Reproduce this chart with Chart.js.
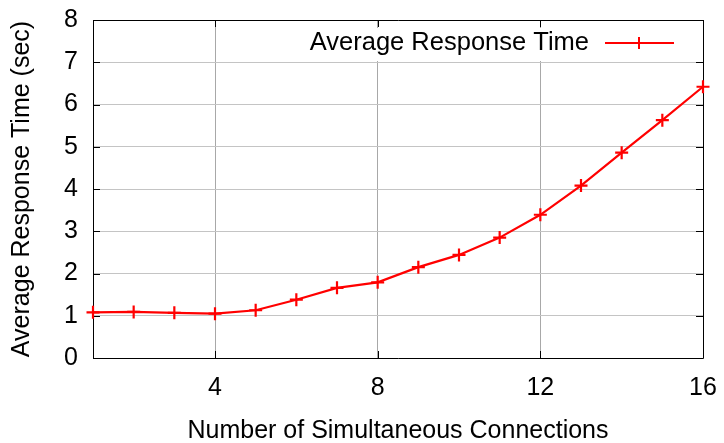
<!DOCTYPE html>
<html>
<head>
<meta charset="utf-8">
<script src="https://cdn.jsdelivr.net/npm/chart.js@4"></script>
<style>
  html,body{margin:0;padding:0;background:#fff;}
  #wrap{width:724px;height:443px;position:relative;}
</style>
</head>
<body>
<div id="wrap"><canvas id="c"></canvas></div>
<script>
const connections = [1,2,3,4,5,6,7,8,9,10,11,12,13,14,15,16];
const responseTime = [1.08,1.09,1.07,1.05,1.13,1.38,1.66,1.79,2.15,2.44,2.85,3.39,4.08,4.86,5.63,6.42];
const xTicks = [4,8,12,16];
const yTicks = [0,1,2,3,4,5,6,7,8];
const seriesLabel = 'Average Response Time';

const FONT = "'Liberation Sans', Arial, sans-serif";
const RED = '#ff0000';

// gnuplot-style frame with inward ticks + in-plot key
const framePlugin = {
  id:'frame',
  beforeDatasetsDraw(chart){
    const {ctx, chartArea:a, scales} = chart;
    ctx.save();
    // key box (white, hides the grid behind it)
    ctx.fillStyle='#fff';
    ctx.fillRect(a.right-400, a.top+8, 392, 33);
    ctx.strokeStyle='#000'; ctx.lineWidth=1;
    ctx.beginPath();
    ctx.rect(Math.round(a.left)+0.5, Math.round(a.top)+0.5, Math.round(a.right-a.left), Math.round(a.bottom-a.top));
    const t=7;
    xTicks.forEach(v=>{
      const x=Math.round(scales.x.getPixelForValue(v))+0.5;
      ctx.moveTo(x,a.bottom); ctx.lineTo(x,a.bottom-t);
      ctx.moveTo(x,a.top); ctx.lineTo(x,a.top+t);
    });
    yTicks.forEach(v=>{
      const y=Math.round(scales.y.getPixelForValue(v))+0.5;
      ctx.moveTo(a.left,y); ctx.lineTo(a.left+t,y);
      ctx.moveTo(a.right,y); ctx.lineTo(a.right-t,y);
    });
    ctx.stroke();
    // key text and sample
    const cy=a.top+23;
    ctx.fillStyle='#000';
    ctx.font='25.5px '+FONT;
    ctx.textAlign='right'; ctx.textBaseline='middle';
    ctx.fillText(seriesLabel, a.right-114, cy);
    ctx.strokeStyle=RED; ctx.lineWidth=2;
    ctx.beginPath();
    ctx.moveTo(a.right-98,cy); ctx.lineTo(a.right-29,cy);
    const mx=a.right-64;
    ctx.moveTo(mx-6,cy); ctx.lineTo(mx+6,cy);
    ctx.moveTo(mx,cy-6); ctx.lineTo(mx,cy+6);
    ctx.stroke();
    ctx.restore();
  }
};

new Chart(document.getElementById('c'),{
  type:'line',
  data:{
    labels:connections,
    datasets:[{
      label:seriesLabel,
      data:connections.map((x,i)=>({x, y:responseTime[i]})),
      borderColor:RED, backgroundColor:RED,
      borderWidth:2.2, tension:0,
      pointStyle:'cross', pointRadius:6.5, pointBorderWidth:2.2,
      pointBorderColor:RED, clip:false
    }]
  },
  options:{
    responsive:true, maintainAspectRatio:false, animation:false,
    devicePixelRatio:1,
    layout:{padding:{top:20,right:21,left:0,bottom:0}},
    plugins:{legend:{display:false},tooltip:{enabled:false}},
    scales:{
      x:{
        type:'linear', min:1, max:16,
        afterBuildTicks:s=>{ s.ticks=xTicks.map(v=>({value:v})); },
        afterFit:s=>{ s.height=85; s.paddingLeft=0; s.paddingRight=0; },
        grid:{color:'#a8a8a8', lineWidth:1, drawTicks:false},
        border:{display:false},
        ticks:{color:'#000', font:{family:FONT,size:25}, padding:15, maxRotation:0},
        title:{display:true, text:'Number of Simultaneous Connections', color:'#000',
               font:{family:FONT,size:25}, padding:{top:0,bottom:-3}}
      },
      y:{
        min:0, max:8,
        afterBuildTicks:s=>{ s.ticks=yTicks.map(v=>({value:v})); },
        afterFit:s=>{ s.width=93; s.paddingTop=0; s.paddingBottom=0; },
        grid:{color:'#c4c4c4', lineWidth:1, drawTicks:false},
        border:{display:false},
        ticks:{color:'#000', font:{family:FONT,size:25}, padding:15},
        title:{display:true, text:'Average Response Time (sec)', color:'#000',
               font:{family:FONT,size:25}, padding:{top:7,bottom:0}}
      }
    }
  },
  plugins:[framePlugin]
});
</script>
</body>
</html>
